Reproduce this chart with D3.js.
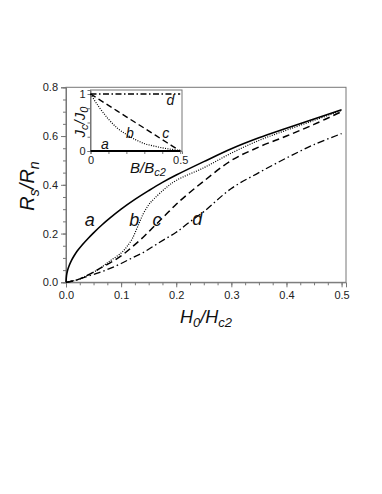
<!DOCTYPE html>
<html>
<head>
<meta charset="utf-8">
<script src="https://cdn.jsdelivr.net/npm/d3@7"></script>
<style>
  body { margin: 0; background: #fff; }
  svg { display: block; font-family: "Liberation Sans", Arial, sans-serif; }
</style>
</head>
<body>
<svg id="chart" width="382" height="494"></svg>
<script>
// main panel: Rs/Rn vs H0/Hc2
const hA = [0, 0.001, 0.003, 0.006, 0.01, 0.015, 0.02, 0.03, 0.04, 0.05, 0.065, 0.08, 0.1, 0.125, 0.15, 0.175, 0.2, 0.25, 0.3, 0.35, 0.4, 0.45, 0.5];
const rA = [0, 0.028, 0.05, 0.07, 0.09, 0.11, 0.127, 0.155, 0.18, 0.203, 0.235, 0.264, 0.3, 0.34, 0.376, 0.41, 0.44, 0.495, 0.548, 0.593, 0.632, 0.67, 0.708];

const hB = [0, 0.02, 0.04, 0.06, 0.08, 0.1, 0.11, 0.12, 0.13, 0.14, 0.15, 0.16, 0.18, 0.2, 0.25, 0.3, 0.35, 0.4, 0.45, 0.5];
const rB = [0, 0.01, 0.03, 0.055, 0.088, 0.12, 0.145, 0.178, 0.228, 0.28, 0.318, 0.343, 0.385, 0.418, 0.47, 0.53, 0.582, 0.624, 0.664, 0.705];

const hC = [0, 0.02, 0.04, 0.06, 0.08, 0.1, 0.12, 0.14, 0.16, 0.18, 0.2, 0.22, 0.25, 0.3, 0.35, 0.4, 0.45, 0.5];
const rC = [0, 0.01, 0.03, 0.055, 0.08, 0.108, 0.145, 0.185, 0.23, 0.275, 0.32, 0.36, 0.415, 0.5, 0.555, 0.6, 0.648, 0.7];

const hD = [0, 0.02, 0.04, 0.06, 0.08, 0.1, 0.12, 0.14, 0.16, 0.18, 0.2, 0.22, 0.25, 0.3, 0.35, 0.4, 0.45, 0.5];
const rD = [0, 0.01, 0.025, 0.04, 0.057, 0.077, 0.1, 0.122, 0.15, 0.178, 0.205, 0.24, 0.29, 0.385, 0.45, 0.51, 0.565, 0.61];

// inset: Jc/J0 vs B/Bc2
const bIn = [0, 0.05, 0.1, 0.15, 0.2, 0.25, 0.3, 0.35, 0.4, 0.45, 0.5];
const jA = [0, 0, 0, 0, 0, 0, 0, 0, 0, 0, 0];
const jB = [1, 0.76, 0.56, 0.4, 0.29, 0.2, 0.13, 0.09, 0.055, 0.03, 0.01];
const jC = [1, 0.9, 0.8, 0.7, 0.6, 0.5, 0.4, 0.3, 0.2, 0.1, 0];
const jD = [1, 1, 1, 1, 1, 1, 1, 1, 1, 1, 1];

const xTicks = [0, 0.1, 0.2, 0.3, 0.4, 0.5];
const yTicks = [0, 0.2, 0.4, 0.6, 0.8];

const svg = d3.select("#chart");

const x = d3.scaleLinear().domain([0, 0.508]).range([66, 346]);
const y = d3.scaleLinear().domain([0, 0.8]).range([282.3, 87.3]);

const frameColor = "#777";

// main frame
svg.append("rect")
  .attr("x", x(0)).attr("y", y(0.8))
  .attr("width", x(0.508) - x(0)).attr("height", y(0) - y(0.8))
  .attr("fill", "none").attr("stroke", frameColor).attr("stroke-width", 1);

// x axis
svg.append("g").attr("transform", `translate(0,${y(0)})`)
  .call(d3.axisBottom(x).tickValues(xTicks).tickFormat(d3.format(".1f")).tickSize(5).tickPadding(4));
svg.append("g").attr("transform", `translate(0,${y(0)})`)
  .call(d3.axisBottom(x).tickValues(d3.range(0, 0.5001, 0.025)).tickFormat("").tickSize(3))
  .call(g => g.select(".domain").remove());

// y axis
svg.append("g").attr("transform", `translate(${x(0)},0)`)
  .call(d3.axisLeft(y).tickValues(yTicks).tickFormat(d3.format(".1f")).tickSize(5).tickPadding(3));
svg.append("g").attr("transform", `translate(${x(0)},0)`)
  .call(d3.axisLeft(y).tickValues(d3.range(0, 0.8001, 0.05)).tickFormat("").tickSize(3))
  .call(g => g.select(".domain").remove());

svg.selectAll(".domain").attr("stroke", frameColor);
svg.selectAll(".tick line").attr("stroke", frameColor);
svg.selectAll(".tick text").attr("font-size", 11).attr("fill", "#222")
  .attr("font-family", "Liberation Sans, Arial, sans-serif");

// axis titles
const xt = svg.append("text")
  .attr("x", 206).attr("y", 323)
  .attr("text-anchor", "middle")
  .attr("font-size", 18).attr("font-style", "italic").attr("fill", "#111");
xt.append("tspan").text("H");
xt.append("tspan").attr("font-size", 13).attr("dy", 4).text("0");
xt.append("tspan").attr("dy", -4).text("/H");
xt.append("tspan").attr("font-size", 13).attr("dy", 4).text("c2");

const yt = svg.append("text")
  .attr("transform", "translate(34,186) rotate(-90)")
  .attr("text-anchor", "middle")
  .attr("font-size", 20).attr("font-style", "italic").attr("fill", "#111");
yt.append("tspan").text("R");
yt.append("tspan").attr("font-size", 14).attr("dy", 5).text("s");
yt.append("tspan").attr("dy", -5).text("/R");
yt.append("tspan").attr("font-size", 14).attr("dy", 5).text("n");

// curves
const line = d3.line().x(d => x(d[0])).y(d => y(d[1])).curve(d3.curveCatmullRom.alpha(0.5));

const mainSeries = [
  { h: hA, r: rA, dash: null, w: 1.6 },
  { h: hB, r: rB, dash: "1,1.4", w: 1.2 },
  { h: hC, r: rC, dash: "7,4", w: 1.5 },
  { h: hD, r: rD, dash: "7,3,1.5,3", w: 1.3 }
];

svg.append("g").selectAll("path")
  .data(mainSeries)
  .join("path")
  .attr("d", s => line(s.h.map((h, i) => [h, s.r[i]])))
  .attr("fill", "none")
  .attr("stroke", "#000")
  .attr("stroke-width", s => s.w)
  .attr("stroke-dasharray", s => s.dash);

// curve letters
const mainLabels = [
  { t: "a", h: 0.043, r: 0.23 },
  { t: "b", h: 0.124, r: 0.23 },
  { t: "c", h: 0.165, r: 0.23 },
  { t: "d", h: 0.238, r: 0.235 }
];
svg.append("g").selectAll("text")
  .data(mainLabels)
  .join("text")
  .attr("x", d => x(d.h)).attr("y", d => y(d.r))
  .attr("text-anchor", "middle")
  .attr("font-size", 18).attr("font-style", "italic").attr("fill", "#111")
  .text(d => d.t);

// ---- inset ----
const xi = d3.scaleLinear().domain([0, 0.51]).range([90.5, 182]);
const yi = d3.scaleLinear().domain([0, 1.07]).range([151, 90]);

const inset = svg.append("g");
inset.append("rect")
  .attr("x", xi(0)).attr("y", yi(1.07))
  .attr("width", xi(0.51) - xi(0)).attr("height", yi(0) - yi(1.07))
  .attr("fill", "#fff").attr("stroke", frameColor).attr("stroke-width", 1);

inset.append("g").attr("transform", `translate(0,${yi(0)})`)
  .call(d3.axisBottom(xi).tickValues(d3.range(0, 0.5001, 0.1))
    .tickFormat(d => (d === 0 ? "0" : d === 0.5 ? "0.5" : "")).tickSize(3).tickPadding(2));
inset.append("g").attr("transform", `translate(${xi(0)},0)`)
  .call(d3.axisLeft(yi).tickValues([0, 0.25, 0.5, 0.75, 1])
    .tickFormat(d => (d === 0 ? "0" : d === 1 ? "1" : "")).tickSize(3).tickPadding(2));
inset.selectAll(".domain").attr("stroke", frameColor);
inset.selectAll(".tick line").attr("stroke", frameColor);
inset.selectAll(".tick text").attr("font-size", 11).attr("fill", "#222")
  .attr("font-family", "Liberation Sans, Arial, sans-serif");

const lineIn = d3.line().x(d => xi(d[0])).y(d => yi(d[1])).curve(d3.curveMonotoneX);
const insetSeries = [
  { j: jA, dash: null, w: 1.8 },
  { j: jB, dash: "1,1.4", w: 1.2 },
  { j: jC, dash: "6,3.5", w: 1.4 },
  { j: jD, dash: "6,2.5,1.5,2.5", w: 1.3 }
];
inset.append("g").selectAll("path")
  .data(insetSeries)
  .join("path")
  .attr("d", s => lineIn(bIn.map((b, i) => [b, s.j[i]])))
  .attr("fill", "none")
  .attr("stroke", "#000")
  .attr("stroke-width", s => s.w)
  .attr("stroke-dasharray", s => s.dash);

const insetLabels = [
  { t: "a", b: 0.08, j: 0.03 },
  { t: "b", b: 0.22, j: 0.23 },
  { t: "c", b: 0.42, j: 0.23 },
  { t: "d", b: 0.445, j: 0.8 }
];
inset.append("g").selectAll("text")
  .data(insetLabels)
  .join("text")
  .attr("x", d => xi(d.b)).attr("y", d => yi(d.j))
  .attr("text-anchor", "middle")
  .attr("font-size", 14).attr("font-style", "italic").attr("fill", "#111")
  .text(d => d.t);

const ixt = inset.append("text")
  .attr("x", 148).attr("y", 173)
  .attr("text-anchor", "middle")
  .attr("font-size", 15).attr("font-style", "italic").attr("fill", "#111");
ixt.append("tspan").text("B/B");
ixt.append("tspan").attr("font-size", 11).attr("dy", 3).text("c2");

const iyt = inset.append("text")
  .attr("transform", "translate(85,122) rotate(-90)")
  .attr("text-anchor", "middle")
  .attr("font-size", 15).attr("font-style", "italic").attr("fill", "#111");
iyt.append("tspan").text("J");
iyt.append("tspan").attr("font-size", 11).attr("dy", 3).text("c");
iyt.append("tspan").attr("dy", -3).text("/J");
iyt.append("tspan").attr("font-size", 11).attr("dy", 3).text("0");
</script>
</body>
</html>
